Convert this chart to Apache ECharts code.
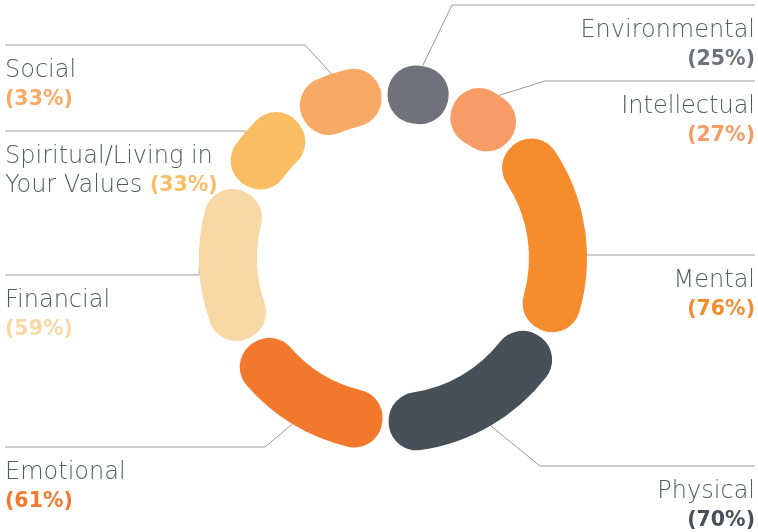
<!DOCTYPE html>
<html>
<head>
<meta charset="utf-8">
<script src="https://cdn.jsdelivr.net/npm/echarts@6/dist/echarts.min.js"></script>
<style>html,body{margin:0;padding:0;background:#fff;}#c{width:758px;height:532px;}</style>
</head>
<body>
<div id="c"></div>
<script>
// ---- data ----
const categories = ['Environmental', 'Intellectual', 'Mental', 'Physical', 'Emotional', 'Financial', 'Spiritual/Living in Your Values', 'Social'];
const values = [25, 27, 76, 70, 61, 59, 33, 33];
const labelLines1 = ['Environmental', 'Intellectual', 'Mental', 'Physical', 'Emotional', 'Financial', 'Spiritual/Living in', 'Social'];
const labelLines2 = ['', '', '', '', '', '', 'Your Values ', ''];

// ---- styles ----
const colors = ['#6f727b', '#f79c66', '#f58d2e', '#474f59', '#f2782e', '#f8d9a6', '#f9bd63', '#f8a965'];
// label placement: side, y of horizontal leader, x of knee (null = straight from slice)
const placement = [
  { side: 'right', lineY: 5, kneeX: 452 },
  { side: 'right', lineY: 81, kneeX: 545 },
  { side: 'right', lineY: 255, kneeX: null },
  { side: 'right', lineY: 466, kneeX: 540 },
  { side: 'left', lineY: 447, kneeX: 265 },
  { side: 'left', lineY: 275, kneeX: null },
  { side: 'left', lineY: 131, kneeX: null },
  { side: 'left', lineY: 45, kneeX: 305 }
];
const CX = 393, CY = 258, R0 = 136, R1 = 194, START = 93;
const FONT = '"DejaVu Sans", sans-serif';

const rich = { n: { fontFamily: FONT, fontWeight: 200, fontSize: 24, color: '#555a60', lineHeight: 29 } };
colors.forEach((c, i) => {
  rich['p' + i] = { fontFamily: FONT, fontWeight: 700, fontSize: 20.5, color: c, lineHeight: 29 };
});

const chart = echarts.init(document.getElementById('c'), null, { renderer: 'canvas' });
const total = values.reduce((a, b) => a + b, 0);

chart.setOption({
  animation: false,
  series: [{
    type: 'pie',
    center: [CX, CY],
    radius: [R0, R1],
    startAngle: START,
    clockwise: true,
    padAngle: 2.2,
    avoidLabelOverlap: false,
    itemStyle: { borderRadius: 28 },
    emphasis: { disabled: true },
    data: categories.map((name, i) => ({ name, value: values[i], itemStyle: { color: colors[i] } })),
    label: {
      show: true,
      position: 'outside',
      formatter: (p) => {
        const i = p.dataIndex;
        const pct = '{p' + i + '|(' + values[i] + '%)}';
        if (labelLines2[i]) return '{n|' + labelLines1[i] + '}\n{n|' + labelLines2[i] + '}' + pct;
        return '{n|' + labelLines1[i] + '}\n' + pct;
      },
      rich: rich
    },
    labelLine: { show: true, length: 10, length2: 10, smooth: false, lineStyle: { color: '#999999', width: 1 } },
    labelLayout: function (params) {
      const i = params.dataIndex;
      const P = placement[i];
      let start;
      if (params.labelLinePoints && params.labelLinePoints[0]) {
        start = params.labelLinePoints[0].slice();
      } else {
        let acc = 0;
        for (let k = 0; k < i; k++) acc += values[k];
        const mid = (START - (acc + values[i] / 2) / total * 360) * Math.PI / 180;
        start = [CX + R1 * Math.cos(mid), CY - R1 * Math.sin(mid)];
      }
      const endX = P.side === 'left' ? 5 : 755;
      const kneeX = P.kneeX == null ? start[0] : P.kneeX;
      return {
        x: endX,
        y: P.lineY + 11.5,
        align: P.side,
        verticalAlign: 'top',
        labelLinePoints: [start, [kneeX, P.lineY], [endX, P.lineY]]
      };
    }
  }]
});
</script>
</body>
</html>
